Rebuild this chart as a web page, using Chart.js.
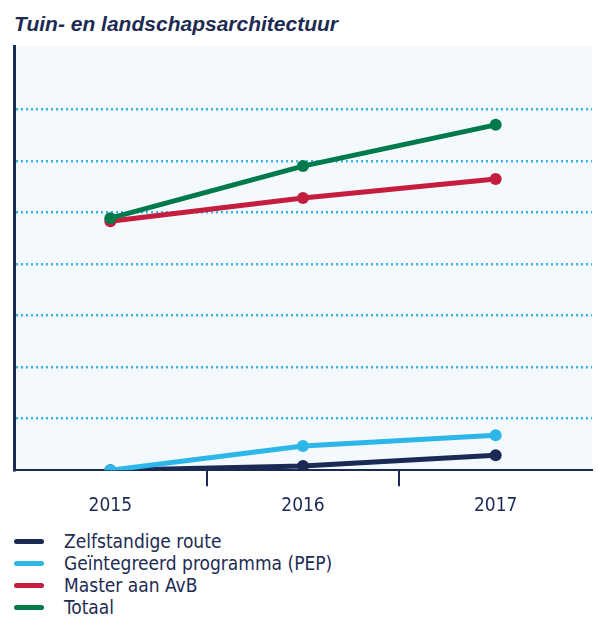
<!DOCTYPE html>
<html>
<head>
<meta charset="utf-8">
<script src="https://cdn.jsdelivr.net/npm/chart.js@4.4.1/dist/chart.umd.min.js"></script>
<style>
  body { margin: 0; background: #fff; width: 598px; height: 624px; position: relative; overflow: hidden; }
  #title { position: absolute; left: 14px; top: 12px; font: italic bold 21px "Liberation Sans", Arial, sans-serif; color: #1d2b53; }
  #wrap { position: absolute; left: 0; top: 0; width: 598px; height: 530px; }
  #legend { position: absolute; left: 14px; top: 530px; font: 19px "DejaVu Sans Condensed", sans-serif; color: #1d2b53; }
  .item { height: 22px; display: flex; align-items: center; }
  .sw { width: 30px; height: 5px; border-radius: 3px; margin-right: 20px; }
</style>
</head>
<body>
<div id="title">Tuin- en landschapsarchitectuur</div>
<div id="wrap"><canvas id="chart"></canvas></div>
<div id="legend"></div>
<script>
    const years = ['2015', '2016', '2017'];
    const zelfstandig = [0, 0.8, 2.9];
    const pep = [0, 4.7, 6.8];
    const master = [48.3, 52.8, 56.5];
    const totaal = [48.9, 59, 67];

    const navy = '#1b2a55';
    const series = [
        { label: 'Zelfstandige route', data: zelfstandig, color: navy, order: 4 },
        { label: 'Geïntegreerd programma (PEP)', data: pep, color: '#2db6e8', order: 3 },
        { label: 'Master aan AvB', data: master, color: '#c41d3d', order: 2 },
        { label: 'Totaal', data: totaal, color: '#017a4b', order: 1 }
    ];

    // lichtblauwe achtergrond van het plotvlak
    const plotBg = {
        id: 'plotBg',
        beforeDraw(chart) {
            const a = chart.chartArea;
            const ctx = chart.ctx;
            ctx.save();
            ctx.fillStyle = '#f3f9fd';
            ctx.fillRect(a.left, a.top, a.right - a.left, a.bottom - a.top);
            ctx.restore();
        }
    };

    new Chart(document.getElementById('chart'), {
        type: 'line',
        data: {
            labels: years,
            datasets: series.map(s => ({
                label: s.label,
                data: s.data,
                borderColor: s.color,
                backgroundColor: s.color,
                borderWidth: 5,
                pointRadius: 6,
                pointBorderWidth: 0,
                order: s.order
            }))
        },
        options: {
            responsive: true,
            maintainAspectRatio: false,
            animation: false,
            layout: { padding: { top: 46, left: 14, right: 3, bottom: 5 } },
            plugins: { legend: { display: false }, tooltip: { enabled: false } },
            scales: {
                x: {
                    offset: true,
                    border: { color: navy, width: 2 },
                    grid: {
                        offset: true,
                        drawOnChartArea: false,
                        tickLength: 16,
                        lineWidth: 2,
                        color: (c) => (c.type === 'tick' && c.index > 0) ? navy : 'rgba(0,0,0,0)'
                    },
                    ticks: {
                        color: navy,
                        padding: 8,
                        font: { family: '"DejaVu Sans Condensed", sans-serif', size: 19 }
                    }
                },
                y: {
                    min: 0,
                    max: 82.3,
                    border: { color: navy, width: 3, dash: [2, 3] },
                    ticks: { display: false, stepSize: 10 },
                    grid: {
                        drawTicks: false,
                        lineWidth: 2.5,
                        color: (c) => (c.tick && c.tick.value > 0 && c.tick.value % 10 === 0) ? '#39b4e6' : 'rgba(0,0,0,0)'
                    }
                }
            }
        },
        plugins: [plotBg]
    });

    const legend = document.getElementById('legend');
    series.forEach(s => {
        const item = document.createElement('div');
        item.className = 'item';
        item.innerHTML = '<span class="sw" style="background:' + s.color + '"></span>' + s.label;
        legend.appendChild(item);
    });
</script>
</body>
</html>
